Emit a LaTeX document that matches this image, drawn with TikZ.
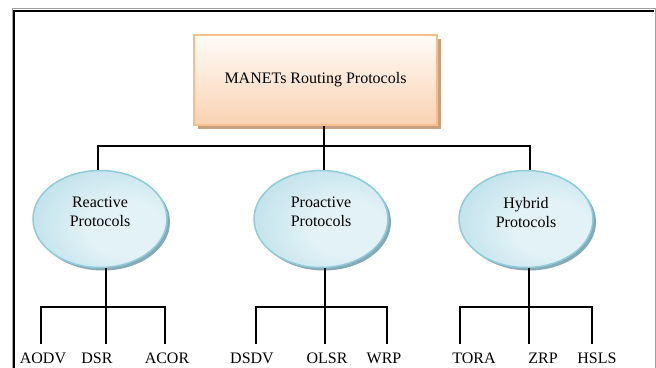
\documentclass[tikz,border=0pt]{standalone}
\usepackage{fontspec}
\setmainfont{Liberation Serif}
\usetikzlibrary{shapes.geometric,shadows}

\definecolor{boxtop}{HTML}{FFFBF8}
\definecolor{boxbot}{HTML}{F9D2B2}
\definecolor{boxedge}{HTML}{F7BE8C}
\definecolor{boxshade}{HTML}{C9A07F}
\definecolor{ellin}{HTML}{E3F2F7}
\definecolor{ellout}{HTML}{A0D2E0}
\definecolor{elledge}{HTML}{8ECCDB}
\definecolor{ellshade}{HTML}{86A9B5}
\definecolor{framegrey}{HTML}{A0A0A0}

% light spot a little right of and below the centre
\pgfdeclareradialshading{bubble}{\pgfpoint{12bp}{-6bp}}{%
  color(0bp)=(ellin); color(14bp)=(ellin); color(52bp)=(ellout); color(70bp)=(ellout)}

\tikzset{
  link/.style={draw=black, line width=1.5pt},
  rootbox/.style={rectangle, draw=boxedge, line width=1.5pt,
    top color=boxtop, bottom color=boxbot,
    minimum width=243pt, minimum height=90pt, inner sep=0pt,
    font=\fontsize{16}{19}\selectfont,
    drop shadow={shadow xshift=4pt, shadow yshift=-4pt, fill=boxshade, opacity=1}},
  classnode/.style={ellipse, draw=elledge, line width=1.5pt, shading=bubble,
    minimum width=134pt, minimum height=97pt, inner sep=0pt, align=center,
    font=\fontsize{16}{19}\selectfont,
    drop shadow={shadow xshift=3pt, shadow yshift=-3pt, fill=ellshade, opacity=1}},
  leaf/.style={anchor=base, inner xsep=1pt, inner ysep=2pt, outer ysep=7pt,
    text height=10.5pt, text depth=0pt, font=\fontsize{16}{19}\selectfont}
}

\begin{document}
\begin{tikzpicture}[x=1pt,y=-1pt]
\useasboundingbox (0,0) rectangle (656,367);
\fill[white] (0,0) rectangle (656,367);

% outer frame: thin grey outline with a heavy black top and left edge
\draw[framegrey, line width=0.8pt] (12,380) -- (12,8) -- (655,8) -- (655,380);
\draw[black, line width=2pt] (14,380) -- (14,10.5) -- (654,10.5);

% root of the hierarchy
\node[rootbox] (root) at (315.5,80) {\raisebox{3pt}{MANETs Routing Protocols}};

% protocol classes
\node[classnode] (rea) at (100,219) {Reactive\\Protocols\\[-5pt]};
\node[classnode] (pro) at (321,219) {Proactive\\Protocols\\[-5pt]};
\node[classnode] (hyb) at (526,219) {Hybrid\\Protocols\\[-5pt]};

% individual protocols
\node[leaf] (aodv) at (43,363) {AODV};
\node[leaf] (dsr)  at (97,363) {DSR};
\node[leaf] (acor) at (167,363) {ACOR};
\node[leaf] (dsdv) at (252,363) {DSDV};
\node[leaf] (olsr) at (327,363) {OLSR};
\node[leaf] (wrp)  at (384,363) {WRP};
\node[leaf] (tora) at (474,363) {TORA};
\node[leaf] (zrp)  at (543,363) {ZRP};
\node[leaf] (hsls) at (597,363) {HSLS};

% junction points
\coordinate (rt) at (324,146);
\coordinate (bl) at (98,146);
\coordinate (br) at (530,146);

\coordinate (ra) at (41,307);  \coordinate (rb) at (106,307); \coordinate (rc) at (165,307);
\coordinate (pa) at (256,307); \coordinate (pb) at (325,307); \coordinate (pc) at (387,307);
\coordinate (ha) at (460,307); \coordinate (hb) at (529,307); \coordinate (hc) at (592,307);

% root to classes
\draw[link] (rt |- root.south) -- (rt |- pro.north);
\draw[link] (bl |- rea.north) -- (bl) -- (br) -- (br |- hyb.north);

% reactive branch
\draw[link] (rb |- rea.south) -- (rb) -- (rb |- dsr.north);
\draw[link] (ra |- aodv.north) -- (ra) -- (rc) -- (rc |- acor.north);

% proactive branch
\draw[link] (pb |- pro.south) -- (pb) -- (pb |- olsr.north);
\draw[link] (pa |- dsdv.north) -- (pa) -- (pc) -- (pc |- wrp.north);

% hybrid branch
\draw[link] (hb |- hyb.south) -- (hb) -- (hb |- zrp.north);
\draw[link] (ha |- tora.north) -- (ha) -- (hc) -- (hc |- hsls.north);
\end{tikzpicture}
\end{document}
